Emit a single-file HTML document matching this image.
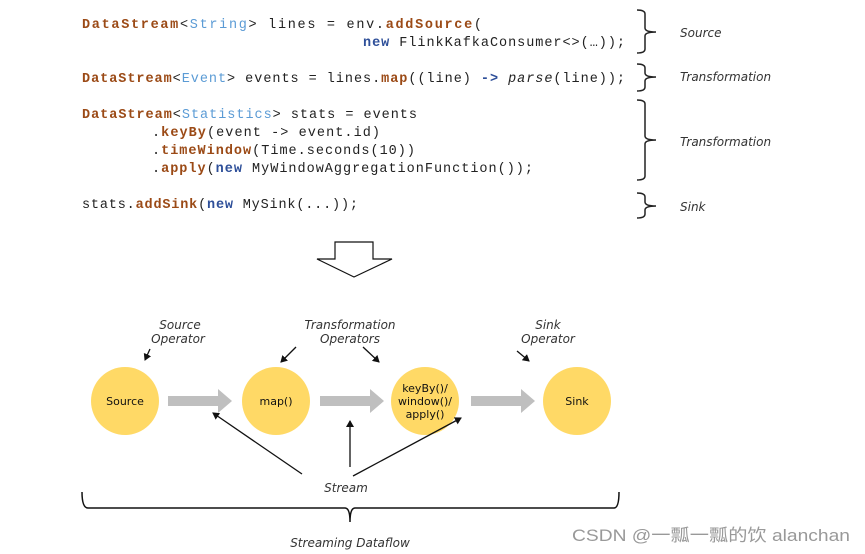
<!DOCTYPE html>
<html><head><meta charset="utf-8"><style>
html,body{margin:0;padding:0;background:#fff;width:865px;height:554px;overflow:hidden}
.c{font-family:"Liberation Mono",monospace;font-size:13.5px;fill:#222}
.b{fill:#9b4a16;font-weight:bold}.l{fill:#5b9bd5}.d{fill:#2e4f99;font-weight:bold}
.i{font-family:"DejaVu Sans","Liberation Sans",sans-serif;font-style:italic;font-size:12px;fill:#333}
.n{font-family:"DejaVu Sans","Liberation Sans",sans-serif;font-size:11px;fill:#111}
</style></head><body>
<svg width="865" height="554" xmlns="http://www.w3.org/2000/svg">
<defs><marker id="a" markerWidth="8" markerHeight="8" refX="6" refY="4" orient="auto" markerUnits="userSpaceOnUse"><path d="M0,0L7,4L0,8z" fill="#111"/></marker></defs>
<g class="c">
<text x="82" y="28" textLength="400" lengthAdjust="spacing"><tspan class="b">DataStream</tspan>&lt;<tspan class="l">String</tspan>&gt; lines = env.<tspan class="b">addSource</tspan>(</text>
<text x="363" y="46" textLength="262" lengthAdjust="spacing"><tspan class="d">new</tspan> FlinkKafkaConsumer&lt;&gt;(…));</text>
<text x="82" y="82" textLength="543" lengthAdjust="spacing"><tspan class="b">DataStream</tspan>&lt;<tspan class="l">Event</tspan>&gt; events = lines.<tspan class="b">map</tspan>((line) <tspan class="d">-&gt;</tspan> <tspan font-style="italic">parse</tspan>(line));</text>
<text x="82" y="118" textLength="335" lengthAdjust="spacing"><tspan class="b">DataStream</tspan>&lt;<tspan class="l">Statistics</tspan>&gt; stats = events</text>
<text x="152" y="136" textLength="228" lengthAdjust="spacing">.<tspan class="b">keyBy</tspan>(event -&gt; event.id)</text>
<text x="152" y="154" textLength="263" lengthAdjust="spacing">.<tspan class="b">timeWindow</tspan>(Time.seconds(10))</text>
<text x="152" y="172" textLength="381" lengthAdjust="spacing">.<tspan class="b">apply</tspan>(<tspan class="d">new</tspan> MyWindowAggregationFunction());</text>
<text x="82" y="208" textLength="276" lengthAdjust="spacing">stats.<tspan class="b">addSink</tspan>(<tspan class="d">new</tspan> MySink(...));</text>
</g>
<g fill="none" stroke="#222" stroke-width="1.5">
<path d="M637,10 Q645,10 645,14 V28 Q645,32 656,32 Q645,32 645,36 V49 Q645,53 637,53"/>
<path d="M637,64 Q645,64 645,68 V73 Q645,77 656,77 Q645,77 645,81 V87 Q645,91 637,91"/>
<path d="M637,100 Q645,100 645,104 V136 Q645,140 656,140 Q645,140 645,144 V176 Q645,180 637,180"/>
<path d="M637,193 Q645,193 645,197 V202 Q645,206 656,206 Q645,206 645,210 V214 Q645,218 637,218"/>
</g>
<text class="i" x="680" y="37">Source</text>
<text class="i" x="680" y="81">Transformation</text>
<text class="i" x="680" y="146">Transformation</text>
<text class="i" x="680" y="211">Sink</text>
<path d="M335,242 H373 V259 H392 L354,277 L317,259 H335 Z" fill="#fff" stroke="#111" stroke-width="1.2"/>
<g fill="#ffd966">
<circle cx="125" cy="401" r="34"/><circle cx="276" cy="401" r="34"/><circle cx="425" cy="401" r="34"/><circle cx="577" cy="401" r="34"/>
</g>
<g fill="#bfbfbf">
<path d="M168,396 H218 V389 L232,401 L218,413 V406 H168Z"/>
<path d="M320,396 H370 V389 L384,401 L370,413 V406 H320Z"/>
<path d="M471,396 H521 V389 L535,401 L521,413 V406 H471Z"/>
</g>
<text class="n" x="125" y="405" text-anchor="middle">Source</text>
<text class="n" x="276" y="405" text-anchor="middle">map()</text>
<text class="n" x="425" y="392" text-anchor="middle">keyBy()/</text>
<text class="n" x="425" y="405" text-anchor="middle">window()/</text>
<text class="n" x="425" y="418" text-anchor="middle">apply()</text>
<text class="n" x="577" y="405" text-anchor="middle">Sink</text>
<g class="i" text-anchor="middle">
<text x="180" y="329">Source</text><text x="178" y="343">Operator</text>
<text x="350" y="329">Transformation</text><text x="350" y="343">Operators</text>
<text x="548" y="329">Sink</text><text x="548" y="343">Operator</text>
<text x="346" y="492">Stream</text>
<text x="350" y="547">Streaming Dataflow</text>
</g>
<g stroke="#111" stroke-width="1.3" marker-end="url(#a)">
<line x1="150" y1="349" x2="145" y2="360"/>
<line x1="296" y1="347" x2="281" y2="362"/>
<line x1="363" y1="347" x2="379" y2="362"/>
<line x1="517" y1="351" x2="529" y2="361"/>
<line x1="302" y1="474" x2="213" y2="413"/>
<line x1="350" y1="467" x2="350" y2="421"/>
<line x1="353" y1="476" x2="461" y2="418"/>
</g>
<path d="M82,492 Q82,508 88,508 H345 Q350,508 350,522 Q350,508 355,508 H614 Q619,508 619,492" fill="none" stroke="#111" stroke-width="1.5"/>
<text x="572" y="541" font-family="'Liberation Sans','Noto Sans CJK SC',sans-serif" font-size="17" fill="#999" textLength="278" lengthAdjust="spacingAndGlyphs">CSDN @一瓢一瓢的饮 alanchan</text>
</svg>
</body></html>
